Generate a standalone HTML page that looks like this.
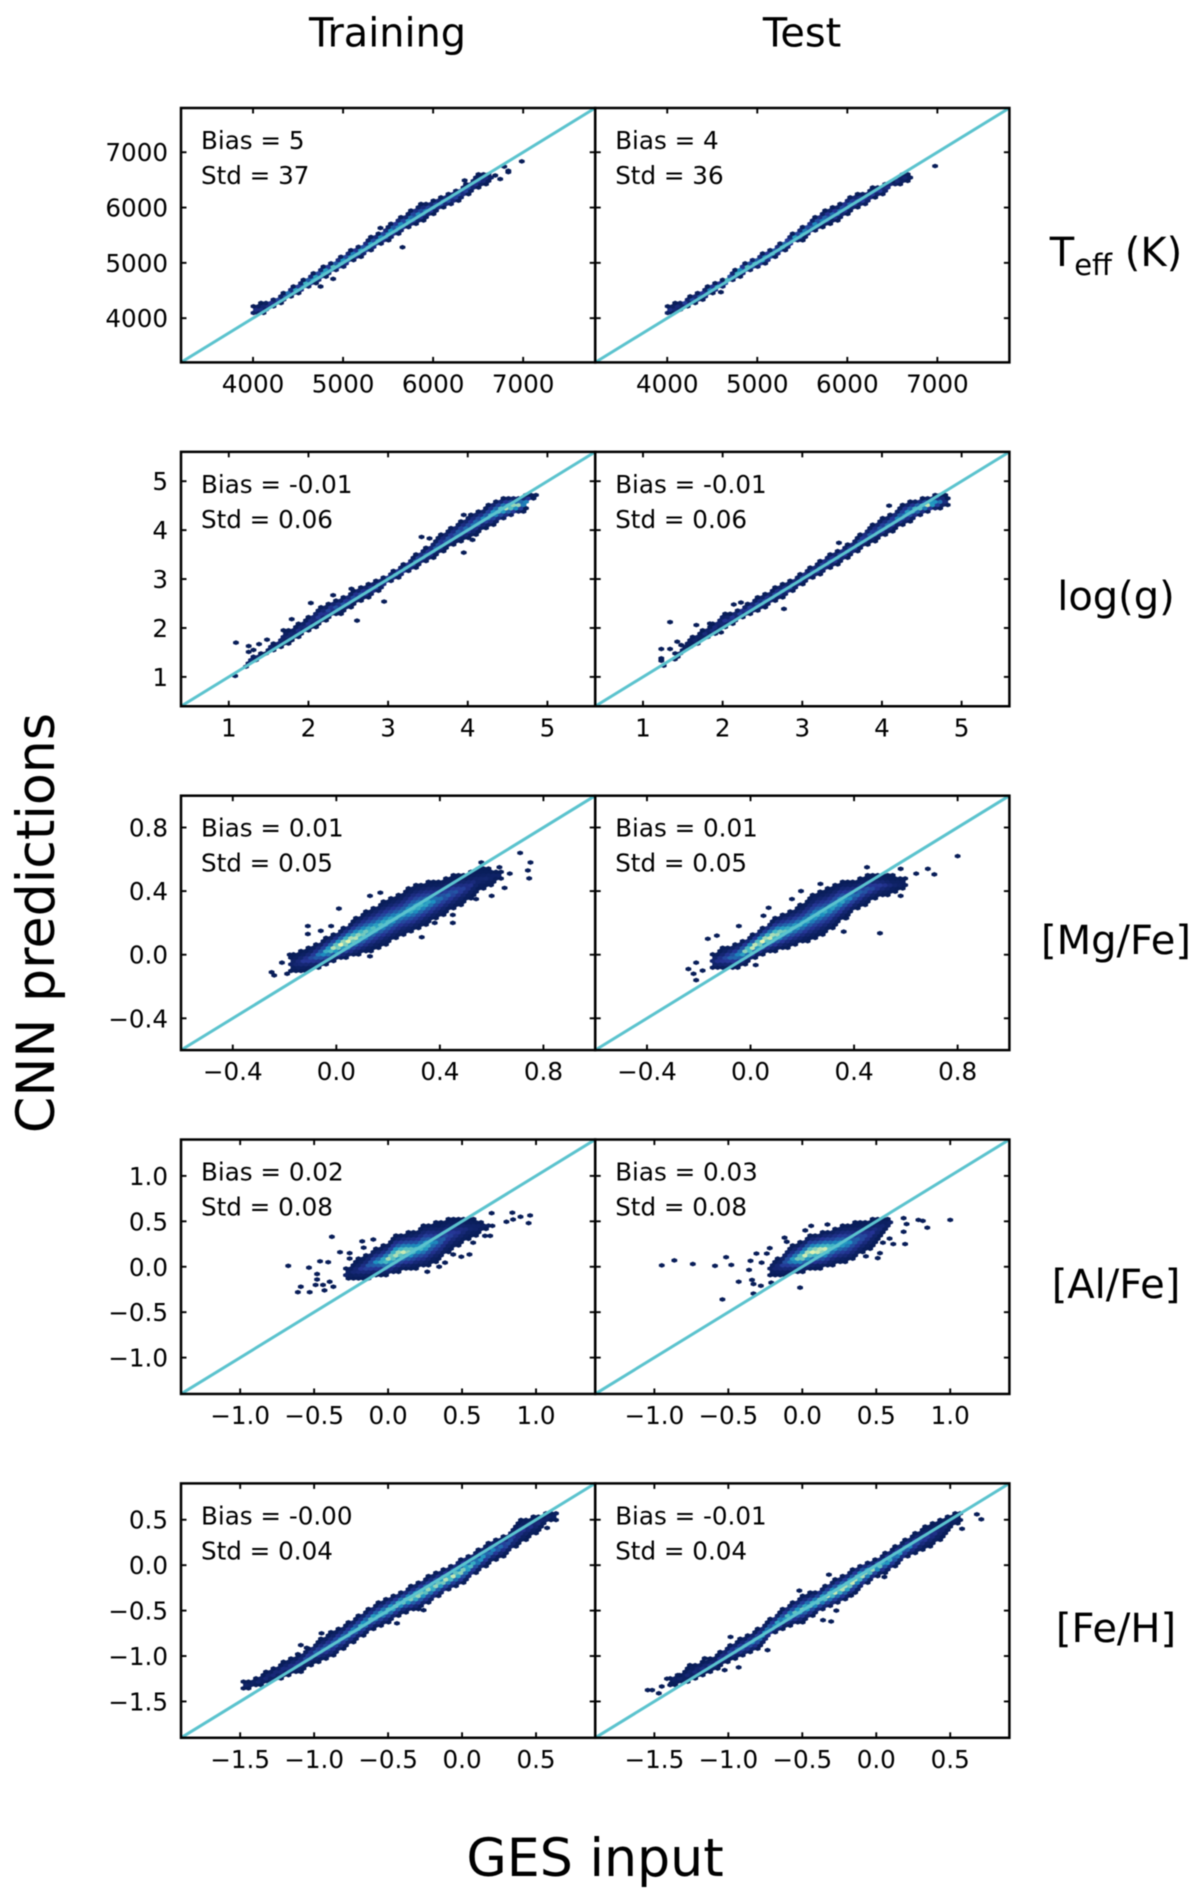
<!DOCTYPE html>
<html lang="en">
<head>
<meta charset="utf-8">
<title>CNN predictions vs GES input</title>
<style>
html,body{margin:0;padding:0;background:#fff;}
svg{display:block;font-family:"DejaVu Sans","Liberation Sans",sans-serif;filter:blur(0.45px);}
text{fill:#000;}
</style>
</head>
<body>
<svg id="figure" xmlns="http://www.w3.org/2000/svg" width="1200" height="1896" viewBox="0 0 1200 1896">
<rect x="0" y="0" width="1200" height="1896" fill="#fff"/>
<text x="387.5" y="46.5" font-size="39.8" text-anchor="middle">Training</text>
<text x="802" y="46.5" font-size="39.8" text-anchor="middle">Test</text>
<text x="1116" y="266" font-size="40" text-anchor="middle">T<tspan dy="9" font-size="29">eff</tspan><tspan dy="-9"> (K)</tspan></text>
<text x="1116" y="610" font-size="40" text-anchor="middle">log(g)</text>
<text x="1116" y="954" font-size="40" text-anchor="middle">[Mg/Fe]</text>
<text x="1116" y="1298" font-size="40" text-anchor="middle">[Al/Fe]</text>
<text x="1116" y="1642" font-size="40" text-anchor="middle">[Fe/H]</text>
<text transform="translate(54,923) rotate(-90)" font-size="52.2" text-anchor="middle">CNN predictions</text>
<text x="595" y="1876" font-size="52.2" text-anchor="middle">GES input</text>
<g id="panels"></g>
</svg>
<script>
// ---------- axis limits and ticks ----------
const teffLimits = [3200, 7800];
const teffTicks = [4000, 5000, 6000, 7000];
const teffTickLabels = ["4000", "5000", "6000", "7000"];
const loggLimits = [0.4, 5.6];
const loggTicks = [1, 2, 3, 4, 5];
const loggTickLabels = ["1", "2", "3", "4", "5"];
const mgLimits = [-0.6, 1.0];
const mgTicks = [-0.4, 0.0, 0.4, 0.8];
const mgTickLabels = ["\u22120.4", "0.0", "0.4", "0.8"];
const alLimits = [-1.4, 1.4];
const alTicks = [-1.0, -0.5, 0.0, 0.5, 1.0];
const alTickLabels = ["\u22121.0", "\u22120.5", "0.0", "0.5", "1.0"];
const feLimits = [-1.9, 0.9];
const feTicks = [-1.5, -1.0, -0.5, 0.0, 0.5];
const feTickLabels = ["\u22121.5", "\u22121.0", "\u22120.5", "0.0", "0.5"];

// ---------- Teff training ----------
const teffTrainX = [4000,4100,4200,4300,4400,4500,4600,4700,4800,4900,5000,5100,5200,5300,5400,5500,5600,5700,5800,5900,6000,6100,6200,6300,6400,6500,6600,6650];
const teffTrainLow = [4048,4040,4170,4260,4370,4440,4530,4620,4740,4830,4890,5020,5100,5190,5300,5400,5480,5600,5670,5760,5880,5980,6020,6120,6240,6330,6420,6480];
const teffTrainHigh = [4229,4290,4350,4410,4530,4620,4750,4850,4950,5040,5160,5250,5340,5460,5550,5670,5820,5880,6030,6090,6140,6210,6300,6370,6480,6620,6650,6660];
const teffTrainPeak = [.1,.1,.15,.25,.4,.45,.55,.6,.6,.55,.55,.5,.5,.5,.5,.5,.45,.45,.4,.35,.3,.3,.25,.25,.2,.15,.1,.05];
const teffTrainOutX = [6985,6835,6835,6745,6690,5660,4750,4890,5415,6350,6790];
const teffTrainOutY = [6835,6665,6640,6515,6580,5282,4572,4710,5630,6490,6740];
// ---------- Teff test ----------
const teffTestX = [4000,4100,4200,4300,4400,4500,4600,4700,4800,4900,5000,5100,5200,5300,5400,5500,5600,5700,5800,5900,6000,6100,6200,6300,6400,6500,6600,6700];
const teffTestLow = [4050,4080,4200,4250,4320,4440,4530,4650,4740,4830,4890,4980,5100,5190,5340,5400,5520,5610,5700,5760,5880,5980,6020,6180,6210,6370,6370,6510];
const teffTestHigh = [4230,4280,4350,4440,4530,4620,4680,4800,4940,5040,5130,5220,5300,5430,5550,5660,5790,5900,5990,6060,6190,6260,6300,6380,6440,6490,6650,6650];
const teffTestPeak = [.1,.1,.15,.2,.3,.4,.5,.55,.6,.55,.5,.5,.5,.45,.45,.45,.4,.4,.35,.35,.3,.25,.2,.2,.15,.1,.05,.05];
const teffTestOutX = [6975,4596];
const teffTestOutY = [6750,4470];
// ---------- log(g) training ----------
const loggTrainX = [1.2,1.3,1.4,1.5,1.6,1.7,1.8,1.9,2.0,2.1,2.2,2.3,2.4,2.5,2.6,2.7,2.8,2.9,3.0,3.1,3.2,3.3,3.4,3.5,3.6,3.7,3.8,3.9,4.0,4.1,4.2,4.3,4.4,4.5,4.6,4.7,4.8,4.88];
const loggTrainLow = [1.17,1.31,1.38,1.51,1.55,1.6,1.72,1.82,1.92,2.02,2.13,2.23,2.28,2.37,2.5,2.57,2.65,2.77,2.9,2.98,3.08,3.17,3.27,3.35,3.46,3.56,3.66,3.76,3.8,3.9,4.02,4.07,4.17,4.24,4.31,4.36,4.62,4.69];
const loggTrainHigh = [1.31,1.44,1.48,1.65,1.75,1.99,2.02,2.13,2.23,2.4,2.47,2.57,2.62,2.72,2.81,2.88,2.95,3.01,3.12,3.22,3.32,3.44,3.59,3.68,3.82,3.96,4.08,4.19,4.3,4.4,4.45,4.58,4.65,4.69,4.7,4.72,4.73,4.73];
const loggTrainPeak = [.05,.05,.05,.05,.05,.05,.08,.1,.12,.15,.18,.2,.22,.22,.22,.22,.22,.22,.22,.25,.25,.25,.25,.25,.25,.25,.25,.3,.3,.35,.4,.5,.7,.8,.85,.45,.1,.05];
const loggTrainOutX = [1.09,1.25,1.38,1.48,1.25,1.31,1.08,1.79,2.03,2.31,2.61,2.95,3.42,3.52,3.95,3.95,4.06,2.54,1.79];
const loggTrainOutY = [1.70,1.63,1.67,1.76,1.51,1.55,1.02,2.18,2.51,2.67,2.15,2.54,3.86,3.83,4.31,3.54,3.80,2.80,1.75];
// ---------- log(g) test ----------
const loggTestX = [1.4,1.5,1.6,1.7,1.8,1.9,2.0,2.1,2.2,2.3,2.4,2.5,2.6,2.7,2.8,2.9,3.0,3.1,3.2,3.3,3.4,3.5,3.6,3.7,3.8,3.9,4.0,4.1,4.2,4.3,4.4,4.5,4.6,4.7,4.8,4.83];
const loggTestLow = [1.34,1.48,1.61,1.68,1.78,1.85,1.96,2.06,2.16,2.23,2.3,2.37,2.47,2.57,2.64,2.76,2.88,2.98,3.05,3.15,3.25,3.35,3.46,3.56,3.68,3.76,3.83,3.94,4.04,4.11,4.21,4.31,4.38,4.41,4.48,4.52];
const loggTestHigh = [1.48,1.58,1.82,1.92,2.02,2.13,2.3,2.3,2.4,2.5,2.6,2.69,2.77,2.88,2.95,3.03,3.15,3.25,3.35,3.49,3.56,3.66,3.74,3.88,4.03,4.15,4.26,4.34,4.45,4.58,4.62,4.65,4.69,4.73,4.73,4.65];
const loggTestPeak = [.05,.05,.05,.05,.08,.1,.12,.15,.18,.2,.2,.2,.2,.2,.22,.22,.22,.22,.25,.25,.25,.25,.25,.25,.25,.25,.3,.3,.35,.45,.6,.75,.85,.4,.1,.05];
const loggTestOutX = [1.34,1.23,1.34,1.43,1.48,1.23,1.23,1.26,1.40,1.67,1.84,1.98,2.14,2.23,2.77,3.46,4.09];
const loggTestOutY = [2.12,1.57,1.57,1.72,1.65,1.38,1.33,1.23,1.36,2.06,2.09,1.91,2.48,2.52,2.39,3.74,4.50];
// ---------- [Mg/Fe] training ----------
const mgTrainX = [-.18,-.15,-.1,-.05,0,.05,.1,.15,.2,.25,.3,.35,.4,.45,.5,.55,.6,.64];
const mgTrainLow = [-.11,-.12,-.1,-.08,-.04,-.02,0,.03,.07,.11,.14,.19,.23,.28,.33,.39,.44,.48];
const mgTrainHigh = [0,.02,.05,.1,.14,.2,.26,.31,.35,.39,.44,.46,.47,.5,.51,.55,.54,.52];
const mgTrainPeak = [.03,.08,.2,.45,.85,.9,.7,.55,.55,.45,.55,.5,.3,.25,.15,.05,.05,.03];
const mgTrainOutX = [-.25,-.24,-.21,-.19,-.18,-.11,-.11,-.06,-.02,.01,.13,.13,.17,.33,.38,.45,.45,.54,.60,.65,.67,.71,.75,.74,.745,.63,.56];
const mgTrainOutY = [-.11,-.13,-.05,-.12,0,.18,.13,.15,.18,.29,-.01,.37,.39,.11,.20,.20,.25,.35,.37,.42,.51,.64,.58,.53,.48,.55,.58];
// ---------- [Mg/Fe] test ----------
const mgTestX = [-.15,-.1,-.05,0,.05,.1,.15,.2,.25,.3,.35,.4,.45,.5,.55,.6];
const mgTestLow = [-.1,-.1,-.09,-.04,0,.02,.04,.07,.1,.14,.21,.27,.32,.36,.38,.41];
const mgTestHigh = [.01,.05,.08,.12,.18,.24,.28,.32,.39,.42,.46,.47,.5,.51,.5,.49];
const mgTestPeak = [.05,.2,.4,.85,.9,.8,.55,.5,.5,.45,.5,.35,.25,.15,.05,.03];
const mgTestOutX = [-.24,-.21,-.21,-.22,-.185,-.165,-.13,-.045,.05,.07,.16,.195,.27,.02,.36,.37,.50,.58,.45,.58,.64,.685,.71,.80];
const mgTestOutY = [-.09,-.05,-.16,-.12,-.10,.10,.12,.18,.245,.295,.35,.40,.445,-.065,.145,.23,.135,.37,.55,.54,.51,.54,.505,.62];
// ---------- [Al/Fe] training ----------
const alTrainX = [-.3,-.25,-.2,-.15,-.1,-.05,0,.05,.1,.15,.2,.25,.3,.35,.4,.45,.5,.55,.6,.65,.68];
const alTrainLow = [-.16,-.15,-.16,-.14,-.12,-.1,-.1,-.08,-.04,-.04,-.02,-.01,.03,.07,.14,.19,.25,.29,.34,.39,.42];
const alTrainHigh = [-.04,.04,.09,.13,.2,.22,.26,.35,.37,.39,.41,.47,.49,.49,.54,.55,.55,.56,.53,.5,.47];
const alTrainPeak = [.03,.05,.1,.2,.35,.5,.75,.8,.8,.7,.55,.6,.4,.3,.2,.15,.1,.05,.05,.03,.03];
const alTrainOutX = [-.675,-.535,-.46,-.405,-.38,-.48,-.48,-.59,-.61,-.53,-.49,-.44,-.43,-.395,-.37,-.325,-.26,-.26,-.175,-.165,-.10,.265,.345,.385,.44,.495,.55,.575,.655,.69,.70,.705,.80,.84,.845,.895,.96,.95];
const alTrainOutY = [.01,-.01,.06,.05,.33,-.08,-.14,-.22,-.28,-.28,-.20,-.20,-.26,-.165,-.22,.16,.15,.09,.28,.21,.30,-.055,0,.045,.135,.11,.135,.265,.34,.34,.59,.45,.495,.595,.52,.55,.565,.48];
// ---------- [Al/Fe] test ----------
const alTestX = [-.22,-.2,-.15,-.1,-.05,0,.05,.1,.15,.2,.25,.3,.35,.4,.45,.5,.55,.6];
const alTestLow = [-.1,-.11,-.11,-.09,-.08,-.07,-.04,-.02,-.02,.01,.03,.04,.07,.14,.18,.26,.35,.43];
const alTestHigh = [.03,.08,.12,.21,.25,.29,.36,.37,.4,.42,.46,.48,.49,.5,.52,.55,.55,.55];
const alTestPeak = [.03,.05,.1,.3,.55,.8,.85,.9,.85,.6,.5,.45,.3,.25,.15,.1,.05,.03];
const alTestOutX = [-.95,-.865,-.74,-.59,-.515,-.48,-.43,-.54,-.33,-.36,-.35,-.31,-.275,-.34,-.33,-.28,-.21,-.015,-.12,-.105,-.22,-.24,.02,.06,.17,.43,.51,.525,.545,.59,.615,.695,.685,.685,.705,.785,.815,.845,1.0];
const alTestOutY = [.015,.07,.03,.01,.105,.02,-.165,-.36,-.295,-.035,.065,.145,.045,-.145,-.19,-.21,-.175,-.23,.32,.275,.205,.145,.40,.45,.465,.115,.095,.15,.265,.31,.25,.25,.385,.535,.47,.515,.505,.43,.515];
// ---------- [Fe/H] training ----------
const feTrainX = [-1.48,-1.4,-1.3,-1.2,-1.1,-1.0,-.9,-.8,-.7,-.6,-.5,-.4,-.3,-.2,-.1,0,.1,.2,.3,.4,.5,.6,.65];
const feTrainLow = [-1.37,-1.345,-1.3,-1.23,-1.19,-1.08,-1.04,-.93,-.82,-.71,-.64,-.53,-.49,-.4,-.29,-.22,-.09,.035,.11,.24,.35,.495,.495];
const feTrainHigh = [-1.28,-1.245,-1.145,-1.05,-.97,-.86,-.75,-.66,-.55,-.44,-.35,-.275,-.18,-.09,-.02,.085,.165,.275,.35,.51,.55,.585,.62];
const feTrainPeak = [.03,.05,.08,.1,.15,.25,.3,.4,.5,.55,.6,.7,.75,.7,.8,.75,.5,.4,.25,.12,.08,.05,.03];
const feTrainOutX = [-1.09,-1.05,-1.11,-.95,-.26,.575,-.44];
const feTrainOutY = [-.88,-.91,-.98,-.75,-.495,.41,-.64];
// ---------- [Fe/H] test ----------
const feTestX = [-1.4,-1.3,-1.2,-1.1,-1.0,-.9,-.8,-.7,-.6,-.5,-.4,-.3,-.2,-.1,0,.1,.2,.3,.4,.5,.58];
const feTestLow = [-1.34,-1.3,-1.245,-1.17,-1.06,-1.01,-.93,-.77,-.68,-.64,-.53,-.46,-.385,-.255,-.13,-.055,.07,.145,.22,.385,.495];
const feTestHigh = [-1.23,-1.155,-1.06,-1.01,-.88,-.79,-.7,-.57,-.44,-.33,-.275,-.17,-.08,.02,.07,.18,.29,.4,.49,.565,.61];
const feTestPeak = [.03,.05,.08,.12,.2,.3,.4,.45,.55,.6,.7,.8,.85,.85,.7,.5,.4,.2,.1,.05,.03];
const feTestOutX = [-1.545,-1.515,-1.47,-1.45,-1.415,-1.385,-1.33,-1.26,-1.16,-.985,-.93,-.735,-1.025,-.52,-.36,-.305,-.27,-.32,-.17,.055,.58,.68,.71];
const feTestOutY = [-1.375,-1.375,-1.41,-1.335,-1.25,-1.30,-1.21,-1.10,-1.025,-.79,-1.125,-.935,-1.155,-.28,-.605,-.62,-.50,-.105,-.335,-.13,.40,.56,.505];

// ---------- annotations ----------
const biasLabels = ["5", "4", "-0.01", "-0.01", "0.01", "0.01", "0.02", "0.03", "-0.00", "-0.01"];
const stdLabels = ["37", "36", "0.06", "0.06", "0.05", "0.05", "0.08", "0.08", "0.04", "0.04"];

// ---------- layout ----------
const FRAME_LEFT = 181, FRAME_W = 414.2, FRAME_TOP = 108, FRAME_H = 254.4, ROW_STEP = 343.85;
const CELL_W = 5, CELL_ROW = 3.3, HEX_HW = 2.9, HEX_HH = 2.35;
const LINE_COLOR = "#5bc3ce";
const TICK_FONT = 24.6;
const cmap = [[8,29,88],[37,52,148],[34,94,168],[29,145,192],[65,182,196],[127,205,187],[199,233,180],[237,248,177],[255,255,217]];

const rows = [
  {key:"teff", lim:teffLimits, ticks:teffTicks, labels:teffTickLabels},
  {key:"logg", lim:loggLimits, ticks:loggTicks, labels:loggTickLabels},
  {key:"mgfe", lim:mgLimits, ticks:mgTicks, labels:mgTickLabels},
  {key:"alfe", lim:alLimits, ticks:alTicks, labels:alTickLabels},
  {key:"feh", lim:feLimits, ticks:feTicks, labels:feTickLabels}
];
const panelData = [
  [{x:teffTrainX,lo:teffTrainLow,hi:teffTrainHigh,pk:teffTrainPeak,ox:teffTrainOutX,oy:teffTrainOutY},
   {x:teffTestX,lo:teffTestLow,hi:teffTestHigh,pk:teffTestPeak,ox:teffTestOutX,oy:teffTestOutY}],
  [{x:loggTrainX,lo:loggTrainLow,hi:loggTrainHigh,pk:loggTrainPeak,ox:loggTrainOutX,oy:loggTrainOutY},
   {x:loggTestX,lo:loggTestLow,hi:loggTestHigh,pk:loggTestPeak,ox:loggTestOutX,oy:loggTestOutY}],
  [{x:mgTrainX,lo:mgTrainLow,hi:mgTrainHigh,pk:mgTrainPeak,ox:mgTrainOutX,oy:mgTrainOutY},
   {x:mgTestX,lo:mgTestLow,hi:mgTestHigh,pk:mgTestPeak,ox:mgTestOutX,oy:mgTestOutY}],
  [{x:alTrainX,lo:alTrainLow,hi:alTrainHigh,pk:alTrainPeak,ox:alTrainOutX,oy:alTrainOutY},
   {x:alTestX,lo:alTestLow,hi:alTestHigh,pk:alTestPeak,ox:alTestOutX,oy:alTestOutY}],
  [{x:feTrainX,lo:feTrainLow,hi:feTrainHigh,pk:feTrainPeak,ox:feTrainOutX,oy:feTrainOutY},
   {x:feTestX,lo:feTestLow,hi:feTestHigh,pk:feTestPeak,ox:feTestOutX,oy:feTestOutY}]
];

const NS = "http://www.w3.org/2000/svg";
function make(tag, parent, attrs) {
  const node = document.createElementNS(NS, tag);
  for (const k in attrs) node.setAttribute(k, attrs[k]);
  parent.appendChild(node);
  return node;
}
function colorFor(level) {
  const v = Math.max(0, Math.min(0.999, level)) * (cmap.length - 1);
  const i = Math.floor(v), f = v - i;
  const a = cmap[i], b = cmap[i + 1];
  return "rgb(" + Math.round(a[0] + (b[0] - a[0]) * f) + "," + Math.round(a[1] + (b[1] - a[1]) * f) + "," + Math.round(a[2] + (b[2] - a[2]) * f) + ")";
}
function lookup(xs, arr, x) {
  for (let i = 0; i < xs.length - 1; i++) {
    if (x >= xs[i] && x <= xs[i + 1]) {
      const f = (x - xs[i]) / (xs[i + 1] - xs[i]);
      return arr[i] + (arr[i + 1] - arr[i]) * f;
    }
  }
  return null;
}
function hexPoints(px, py) {
  const w = HEX_HW, h = HEX_HH, s = HEX_HH / 2;
  return [[px, py - h], [px + w, py - s], [px + w, py + s], [px, py + h], [px - w, py + s], [px - w, py - s]]
    .map(p => p[0].toFixed(2) + "," + p[1].toFixed(2)).join(" ");
}

const root = document.getElementById("panels");
rows.forEach(function (row, r) {
  [0, 1].forEach(function (c) {
    const left = FRAME_LEFT + c * FRAME_W, top = FRAME_TOP + r * ROW_STEP;
    const right = left + FRAME_W, bottom = top + FRAME_H;
    const xMin = row.lim[0], xMax = row.lim[1];
    const xScale = v => left + (v - xMin) / (xMax - xMin) * FRAME_W;
    const yScale = v => bottom - (v - xMin) / (xMax - xMin) * FRAME_H;
    const xInvert = p => xMin + (p - left) / FRAME_W * (xMax - xMin);
    const yInvert = p => xMin + (bottom - p) / FRAME_H * (xMax - xMin);
    const d = panelData[r][c];

    const g = make("g", root, {});
    
    

    // density cells
    const cells = make("g", g, {});
    
    
    const rowCount = Math.ceil(FRAME_H / CELL_ROW), colCount = Math.ceil(FRAME_W / CELL_W);
    for (let j = 0; j <= rowCount; j++) {
      const dataY = yInvert(bottom - j * CELL_ROW);
      for (let i = 0; i <= colCount; i++) {
        const dataX = xInvert(left + i * CELL_W + (j % 2 ? CELL_W / 2 : 0));
        const lo = lookup(d.x, d.lo, dataX);
        if (lo === null) continue;
        const hi = lookup(d.x, d.hi, dataX);
        if (dataY < lo || dataY > hi) continue;
        const mid = (lo + hi) / 2, half = (hi - lo) / 2 || 1;
        const t = 1 - Math.abs(dataY - mid) / half;
        const peak = lookup(d.x, d.pk, dataX);
        const cell = make("polygon", cells, {points: hexPoints(xScale(dataX), yScale(dataY)), fill: colorFor(peak * Math.pow(t, 2.2))});
        
        
      }
    }
    // isolated outlier cells
    d.ox.forEach(function (ox, k) {
      const cell = make("polygon", cells, {points: hexPoints(xScale(ox), yScale(d.oy[k])), fill: colorFor(0)});
      
      
    });

    // one-to-one line
    const line = make("line", g, {x1: xScale(xMin), y1: yScale(xMin), x2: xScale(xMax), y2: yScale(xMax), stroke: LINE_COLOR, "stroke-width": 3});
    
    

    // ticks and labels
    row.ticks.forEach(function (v, k) {
      const px = xScale(v), py = yScale(v), len = 5.5;
      [[px, bottom, px, bottom - len], [px, top, px, top + len], [left, py, left + len, py], [right, py, right - len, py]].forEach(function (s) {
        const tick = make("line", g, {x1: s[0], y1: s[1], x2: s[2], y2: s[3], stroke: "#000", "stroke-width": 1.9});
        
        
      });
      const xl = make("text", g, {x: px, y: bottom + 30, "font-size": TICK_FONT, "text-anchor": "middle"});
      
      
      xl.textContent = row.labels[k];
      if (c === 0) {
        const yl = make("text", g, {x: left - 13, y: py + 9, "font-size": TICK_FONT, "text-anchor": "end"});
        
        
        yl.textContent = row.labels[k];
      }
    });

    // frame
    const frame = make("rect", g, {x: left, y: top, width: FRAME_W, height: FRAME_H, fill: "none", stroke: "#000", "stroke-width": 2.5});
    
    

    // annotations
    const idx = r * 2 + c;
    const bias = make("text", g, {x: left + 20, y: top + 41, "font-size": TICK_FONT});
    
    
    bias.textContent = "Bias = " + biasLabels[idx];
    const std = make("text", g, {x: left + 20, y: top + 76, "font-size": TICK_FONT});
    
    
    std.textContent = "Std = " + stdLabels[idx];
  });
});
</script>
</body>
</html>
